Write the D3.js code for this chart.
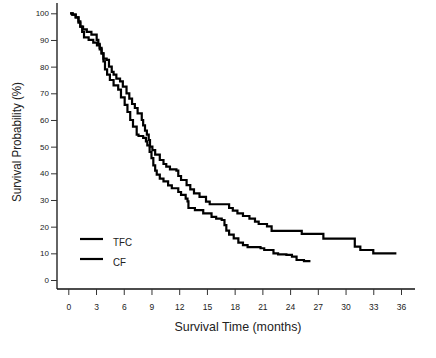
<!DOCTYPE html>
<html>
<head>
<meta charset="utf-8">
<script src="https://cdn.jsdelivr.net/npm/d3@7"></script>
<style>
  html, body { margin: 0; padding: 0; background: #fff; }
  svg { display: block; }
  text { font-family: "Liberation Sans", Arial, sans-serif; fill: #222; }
</style>
</head>
<body>
<svg id="chart" width="436" height="358"></svg>
<script>
// ---- Data ----
const xTicks = [0, 3, 6, 9, 12, 15, 18, 21, 24, 27, 30, 33, 36];
const yTicks = [0, 10, 20, 30, 40, 50, 60, 70, 80, 90, 100];
const seriesNames = ["TFC", "CF"];

// [time in months, survival %] step points
const tfc = [
  [0.2,100],[0.5,99.5],[0.8,98.5],[1.1,97],[1.3,95],[1.5,93],[1.7,91],[2.2,90],[2.7,89],
  [3.1,88],[3.4,86.5],[3.6,85],[3.8,83],[4.15,82.5],[4.4,80],[4.7,78],[4.9,77],[5.2,75.5],
  [5.6,74.5],[5.9,72.5],[6.3,70],[6.6,68],[6.9,66],[7.2,64.5],[7.5,62.5],[7.95,60],[8.1,58],
  [8.3,56],[8.5,54.5],[8.7,52.5],[8.84,50],[9.1,48.7],[9.4,47],[9.9,45],[10.3,43.5],
  [10.6,42.5],[11.0,41.5],[11.7,41],[11.9,39],[12.2,37.5],[12.8,35.6],[13.2,34],[13.6,32.5],
  [14.2,31.2],[14.9,29.4],[15.3,28.4],[17.4,27],[17.8,26],[18.3,25],[18.9,24],[19.6,23],
  [20.2,21.9],[20.6,21],[21.5,20.1],[22.0,18.4],[25.26,17.3],[27.6,15.5],[31.0,12.5],
  [31.6,11.25],[33.0,10],[35.5,10]
];
const cf = [
  [0.2,100],[0.4,99.5],[0.8,98.5],[1.1,96.5],[1.3,95],[1.6,94],[2.0,93],[2.5,92],[3.07,90],
  [3.25,88.5],[3.4,87],[3.6,85],[3.8,82],[3.97,79],[4.2,77],[4.5,75],[4.9,73],[5.4,71.4],
  [5.7,68.5],[6.1,65.7],[6.4,63],[6.7,60],[7.0,57.5],[7.4,54.5],[7.6,54],[8.1,53.3],
  [8.4,52],[8.55,50.5],[8.8,48],[9.0,45.7],[9.2,43],[9.4,41],[9.57,39.5],[9.9,38],
  [10.3,37],[10.8,35.5],[11.2,34.4],[11.9,33],[12.2,31.9],[12.7,30.5],[12.9,29.5],
  [13.0,27],[13.7,26.2],[14.6,25],[15.5,23.7],[16.0,23],[16.6,22.5],[16.9,20.6],
  [17.1,18.5],[17.4,17],[17.9,15.6],[18.4,14],[18.9,13.1],[19.4,12.3],[20.8,11.9],
  [21.2,11.25],[22.2,10],[22.7,9.6],[23.6,9.4],[24.2,8.75],[24.7,7.5],[25.5,7.1],[26.2,7.1]
];

// ---- Layout ----
const svg = d3.select("#chart");
const x = d3.scaleLinear().domain([0, 36]).range([68.3, 401]);
const y = d3.scaleLinear().domain([0, 100]).range([280, 13.3]);
const axisX = 57, axisY = 289;

// Axis lines
svg.append("line").attr("x1", axisX).attr("x2", axisX).attr("y1", 3).attr("y2", axisY)
  .attr("stroke", "#111").attr("stroke-width", 1.3);
svg.append("line").attr("x1", axisX).attr("x2", 415).attr("y1", axisY).attr("y2", axisY)
  .attr("stroke", "#111").attr("stroke-width", 1.3);

// Y axis ticks
const yAxis = d3.axisLeft(y).tickValues(yTicks).tickSize(6).tickPadding(2).tickFormat(d3.format("d"));
const gy = svg.append("g").attr("transform", `translate(${axisX},0)`).call(yAxis);
gy.select(".domain").remove();
gy.selectAll(".tick line").attr("stroke", "#333");
gy.selectAll(".tick text").attr("font-size", 8).attr("fill", "#333")
  .attr("font-family", "'Liberation Sans', Arial, sans-serif");

// X axis ticks
const xAxis = d3.axisBottom(x).tickValues(xTicks).tickSize(6).tickPadding(9).tickFormat(d3.format("d"));
const gx = svg.append("g").attr("transform", `translate(0,${axisY})`).call(xAxis);
gx.select(".domain").remove();
gx.selectAll(".tick line").attr("stroke", "#333");
gx.selectAll(".tick text").attr("font-size", 8.5).attr("fill", "#333")
  .attr("font-family", "'Liberation Sans', Arial, sans-serif");

// Axis titles
svg.append("text").attr("x", 238).attr("y", 331).attr("text-anchor", "middle")
  .attr("font-size", 13.5).attr("textLength", 127).attr("lengthAdjust", "spacingAndGlyphs")
  .text("Survival Time (months)");
svg.append("text").attr("transform", "translate(21,142) rotate(-90)").attr("text-anchor", "middle")
  .attr("font-size", 12.5).attr("textLength", 120).attr("lengthAdjust", "spacingAndGlyphs")
  .text("Survival Probability (%)");

// Curves
const line = d3.line().x(d => x(d[0])).y(d => y(d[1])).curve(d3.curveStepAfter);
[tfc, cf].forEach(s => {
  svg.append("path").datum(s).attr("d", line)
    .attr("fill", "none").attr("stroke", "#000").attr("stroke-width", 2.2)
    .attr("stroke-linejoin", "miter");
});

// Legend
const legendY = [239, 259];
seriesNames.forEach((n, i) => {
  svg.append("line").attr("x1", 80).attr("x2", 103).attr("y1", legendY[i]).attr("y2", legendY[i])
    .attr("stroke", "#000").attr("stroke-width", 2.2);
  svg.append("text").attr("x", 113).attr("y", legendY[i] + 6.5).attr("font-size", 11.5)
    .attr("textLength", i === 0 ? 19 : 13).attr("lengthAdjust", "spacingAndGlyphs")
    .text(n);
});
</script>
</body>
</html>
